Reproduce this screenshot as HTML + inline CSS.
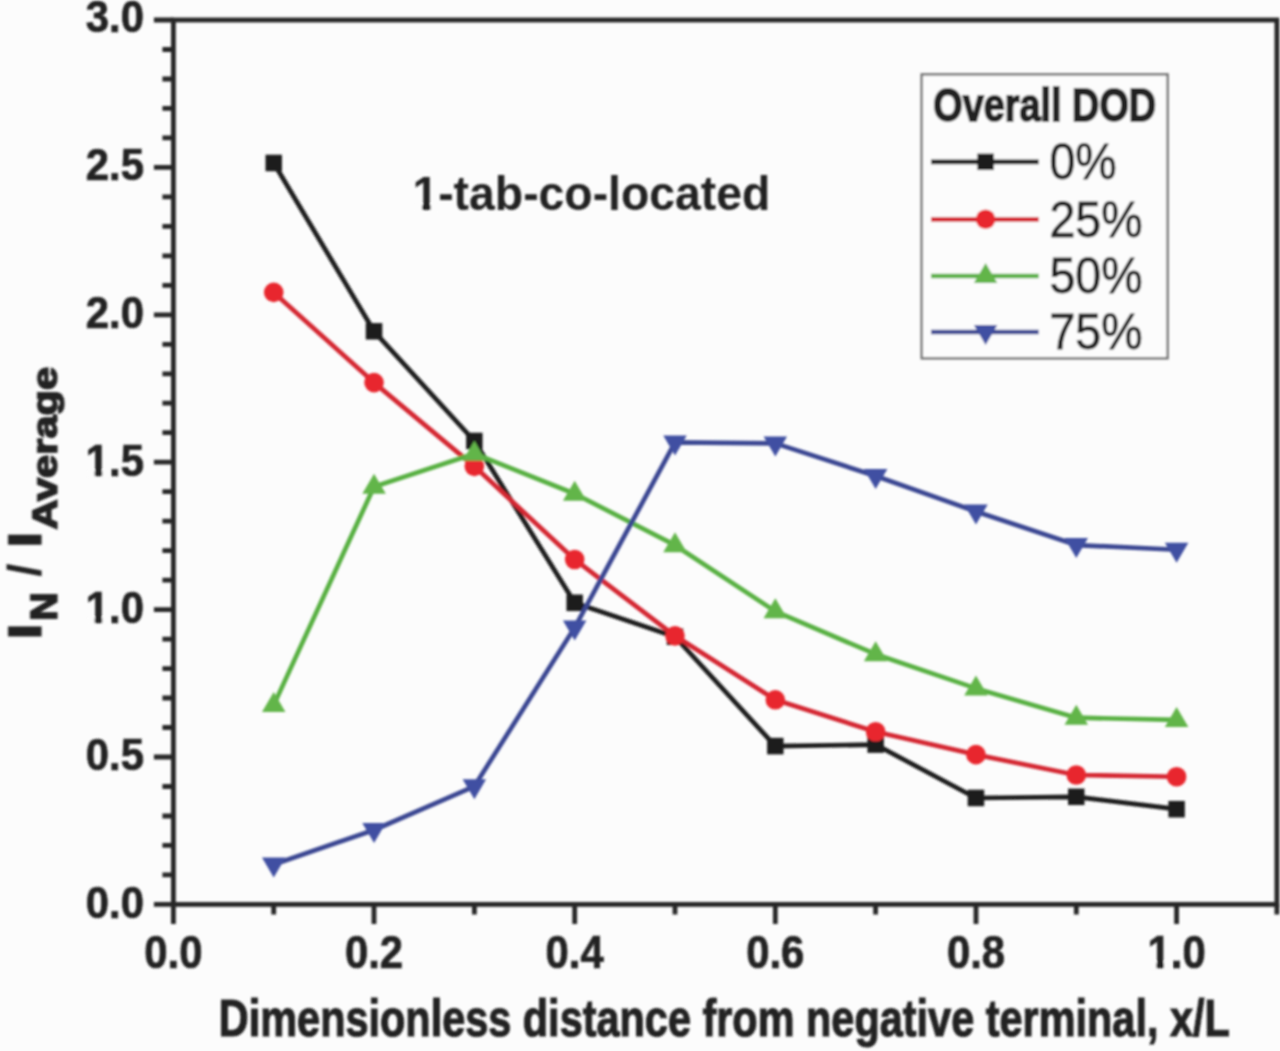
<!DOCTYPE html><html><head><meta charset="utf-8"><style>html,body{margin:0;padding:0;background:#fcfcfc;overflow:hidden}svg{display:block}text{font-family:"Liberation Sans",sans-serif}</style></head><body><svg width="1280" height="1051" viewBox="0 0 1280 1051">
<defs><filter id="bl" x="0" y="0" width="1280" height="1051" filterUnits="userSpaceOnUse"><feGaussianBlur stdDeviation="0.85"/></filter></defs>
<rect width="1280" height="1051" fill="#fcfcfc"/>
<g filter="url(#bl)">
<path d="M153.9 904.4H173.4M162.4 874.9H173.4M162.4 845.4H173.4M162.4 816.0H173.4M162.4 786.5H173.4M153.9 757.0H173.4M162.4 727.5H173.4M162.4 698.0H173.4M162.4 668.6H173.4M162.4 639.1H173.4M153.9 609.6H173.4M162.4 580.1H173.4M162.4 550.6H173.4M162.4 521.2H173.4M162.4 491.7H173.4M153.9 462.2H173.4M162.4 432.7H173.4M162.4 403.2H173.4M162.4 373.8H173.4M162.4 344.3H173.4M153.9 314.8H173.4M162.4 285.3H173.4M162.4 255.8H173.4M162.4 226.4H173.4M162.4 196.9H173.4M153.9 167.4H173.4M162.4 137.9H173.4M162.4 108.4H173.4M162.4 79.0H173.4M162.4 49.5H173.4M153.9 20.0H173.4M173.4 904.4V923.9M273.7 904.4V914.4M374.0 904.4V923.9M474.4 904.4V914.4M574.7 904.4V923.9M675.0 904.4V914.4M775.3 904.4V923.9M875.6 904.4V914.4M976.0 904.4V923.9M1076.3 904.4V914.4M1176.6 904.4V923.9M1276.9 904.4V914.4" stroke="#262626" stroke-width="4.8" fill="none" stroke-linecap="butt"/>
<rect x="173.4" y="20.0" width="1103.5" height="884.4" fill="none" stroke="#262626" stroke-width="4.8"/>
<polyline points="273.72,162.98 374.04,331.31 474.36,440.97 574.68,602.82 675.00,636.72 775.32,746.09 875.64,744.62 975.96,797.98 1076.28,796.80 1176.60,809.18" fill="none" stroke="#1c1c1c" stroke-width="4.7" stroke-linejoin="round"/>
<rect x="265.47" y="154.73" width="16.50" height="16.50" fill="#1f1f1f"/>
<rect x="365.79" y="323.06" width="16.50" height="16.50" fill="#1f1f1f"/>
<rect x="466.11" y="432.72" width="16.50" height="16.50" fill="#1f1f1f"/>
<rect x="566.43" y="594.57" width="16.50" height="16.50" fill="#1f1f1f"/>
<rect x="666.75" y="628.47" width="16.50" height="16.50" fill="#1f1f1f"/>
<rect x="767.07" y="737.84" width="16.50" height="16.50" fill="#1f1f1f"/>
<rect x="867.39" y="736.37" width="16.50" height="16.50" fill="#1f1f1f"/>
<rect x="967.71" y="789.73" width="16.50" height="16.50" fill="#1f1f1f"/>
<rect x="1068.03" y="788.55" width="16.50" height="16.50" fill="#1f1f1f"/>
<rect x="1168.35" y="800.93" width="16.50" height="16.50" fill="#1f1f1f"/>
<polyline points="273.72,292.40 374.04,382.60 474.36,466.33 574.68,559.48 675.00,635.84 775.32,699.81 875.64,731.79 975.96,754.64 1076.28,774.98 1176.60,776.75" fill="none" stroke="#d42632" stroke-width="4.7" stroke-linejoin="round"/>
<circle cx="273.72" cy="292.40" r="9.8" fill="#e8282e"/>
<circle cx="374.04" cy="382.60" r="9.8" fill="#e8282e"/>
<circle cx="474.36" cy="466.33" r="9.8" fill="#e8282e"/>
<circle cx="574.68" cy="559.48" r="9.8" fill="#e8282e"/>
<circle cx="675.00" cy="635.84" r="9.8" fill="#e8282e"/>
<circle cx="775.32" cy="699.81" r="9.8" fill="#e8282e"/>
<circle cx="875.64" cy="731.79" r="9.8" fill="#e8282e"/>
<circle cx="975.96" cy="754.64" r="9.8" fill="#e8282e"/>
<circle cx="1076.28" cy="774.98" r="9.8" fill="#e8282e"/>
<circle cx="1176.60" cy="776.75" r="9.8" fill="#e8282e"/>
<polyline points="273.72,705.12 374.04,486.67 474.36,453.65 574.68,493.74 675.00,545.19 775.32,611.37 875.64,654.20 975.96,688.40 1076.28,717.70 1176.60,719.88" fill="none" stroke="#58b043" stroke-width="4.7" stroke-linejoin="round"/>
<path d="M273.72 692.12L285.47 712.12H261.97Z" fill="#62b54a"/>
<path d="M374.04 473.67L385.79 493.67H362.29Z" fill="#62b54a"/>
<path d="M474.36 440.65L486.11 460.65H462.61Z" fill="#62b54a"/>
<path d="M574.68 480.74L586.43 500.74H562.93Z" fill="#62b54a"/>
<path d="M675.00 532.19L686.75 552.19H663.25Z" fill="#62b54a"/>
<path d="M775.32 598.37L787.07 618.37H763.57Z" fill="#62b54a"/>
<path d="M875.64 641.20L887.39 661.20H863.89Z" fill="#62b54a"/>
<path d="M975.96 675.40L987.71 695.40H964.21Z" fill="#62b54a"/>
<path d="M1076.28 704.70L1088.03 724.70H1064.53Z" fill="#62b54a"/>
<path d="M1176.60 706.88L1188.35 726.88H1164.85Z" fill="#62b54a"/>
<polyline points="273.72,864.51 374.04,829.99 474.36,786.30 574.68,627.58 675.00,442.45 775.32,443.39 875.64,476.00 975.96,511.49 1076.28,545.04 1176.60,549.76" fill="none" stroke="#3a4692" stroke-width="4.7" stroke-linejoin="round"/>
<path d="M273.72 877.51L285.47 857.51H261.97Z" fill="#4050a2"/>
<path d="M374.04 842.99L385.79 822.99H362.29Z" fill="#4050a2"/>
<path d="M474.36 799.30L486.11 779.30H462.61Z" fill="#4050a2"/>
<path d="M574.68 640.58L586.43 620.58H562.93Z" fill="#4050a2"/>
<path d="M675.00 455.45L686.75 435.45H663.25Z" fill="#4050a2"/>
<path d="M775.32 456.39L787.07 436.39H763.57Z" fill="#4050a2"/>
<path d="M875.64 489.00L887.39 469.00H863.89Z" fill="#4050a2"/>
<path d="M975.96 524.49L987.71 504.49H964.21Z" fill="#4050a2"/>
<path d="M1076.28 558.04L1088.03 538.04H1064.53Z" fill="#4050a2"/>
<path d="M1176.60 562.76L1188.35 542.76H1164.85Z" fill="#4050a2"/>
<text id="t_y0" x="144" y="917.9" font-family="Liberation Sans, sans-serif" font-weight="bold" font-size="44.5" text-anchor="end" textLength="58.2" lengthAdjust="spacingAndGlyphs" fill="#222222" stroke="#222222" stroke-width="0.7">0.0</text>
<text id="t_y1" x="144" y="770.4" font-family="Liberation Sans, sans-serif" font-weight="bold" font-size="44.5" text-anchor="end" textLength="58.2" lengthAdjust="spacingAndGlyphs" fill="#222222" stroke="#222222" stroke-width="0.7">0.5</text>
<text id="t_y2" x="144" y="622.9" font-family="Liberation Sans, sans-serif" font-weight="bold" font-size="44.5" text-anchor="end" textLength="58.2" lengthAdjust="spacingAndGlyphs" fill="#222222" stroke="#222222" stroke-width="0.7">1.0</text>
<text id="t_y3" x="144" y="475.8" font-family="Liberation Sans, sans-serif" font-weight="bold" font-size="44.5" text-anchor="end" textLength="58.2" lengthAdjust="spacingAndGlyphs" fill="#222222" stroke="#222222" stroke-width="0.7">1.5</text>
<text id="t_y4" x="144" y="327.9" font-family="Liberation Sans, sans-serif" font-weight="bold" font-size="44.5" text-anchor="end" textLength="58.2" lengthAdjust="spacingAndGlyphs" fill="#222222" stroke="#222222" stroke-width="0.7">2.0</text>
<text id="t_y5" x="144" y="179.8" font-family="Liberation Sans, sans-serif" font-weight="bold" font-size="44.5" text-anchor="end" textLength="58.2" lengthAdjust="spacingAndGlyphs" fill="#222222" stroke="#222222" stroke-width="0.7">2.5</text>
<text id="t_y6" x="144" y="32.2" font-family="Liberation Sans, sans-serif" font-weight="bold" font-size="44.5" text-anchor="end" textLength="58.2" lengthAdjust="spacingAndGlyphs" fill="#222222" stroke="#222222" stroke-width="0.7">3.0</text>
<text id="t_x0" x="173.4" y="967.5" font-family="Liberation Sans, sans-serif" font-weight="bold" font-size="45.5" text-anchor="middle" textLength="58.2" lengthAdjust="spacingAndGlyphs" fill="#222222" stroke="#222222" stroke-width="0.7">0.0</text>
<text id="t_x1" x="374.0" y="967.5" font-family="Liberation Sans, sans-serif" font-weight="bold" font-size="45.5" text-anchor="middle" textLength="58.2" lengthAdjust="spacingAndGlyphs" fill="#222222" stroke="#222222" stroke-width="0.7">0.2</text>
<text id="t_x2" x="574.7" y="967.5" font-family="Liberation Sans, sans-serif" font-weight="bold" font-size="45.5" text-anchor="middle" textLength="58.2" lengthAdjust="spacingAndGlyphs" fill="#222222" stroke="#222222" stroke-width="0.7">0.4</text>
<text id="t_x3" x="775.3" y="967.5" font-family="Liberation Sans, sans-serif" font-weight="bold" font-size="45.5" text-anchor="middle" textLength="58.2" lengthAdjust="spacingAndGlyphs" fill="#222222" stroke="#222222" stroke-width="0.7">0.6</text>
<text id="t_x4" x="976.0" y="967.5" font-family="Liberation Sans, sans-serif" font-weight="bold" font-size="45.5" text-anchor="middle" textLength="58.2" lengthAdjust="spacingAndGlyphs" fill="#222222" stroke="#222222" stroke-width="0.7">0.8</text>
<text id="t_x5" x="1176.6" y="967.5" font-family="Liberation Sans, sans-serif" font-weight="bold" font-size="45.5" text-anchor="middle" textLength="58.2" lengthAdjust="spacingAndGlyphs" fill="#222222" stroke="#222222" stroke-width="0.7">1.0</text>
<text id="t_xt" x="218.8" y="1035.6" font-family="Liberation Sans, sans-serif" font-weight="bold" font-size="51.2" text-anchor="start" textLength="1011" lengthAdjust="spacingAndGlyphs" fill="#222222" stroke="#222222" stroke-width="1.1">Dimensionless distance from negative terminal, x/L</text>
<text id="t_an" x="412.4" y="210.2" font-family="Liberation Sans, sans-serif" font-weight="bold" font-size="47.4" text-anchor="start" textLength="358" lengthAdjust="spacingAndGlyphs" fill="#222222" >1-tab-co-located</text>
<g transform="translate(40.8,640) rotate(-90)"><text id="t_yt_i1" x="0.7" y="0" font-family="Liberation Sans, sans-serif" font-weight="bold" font-size="46" textLength="15.6" lengthAdjust="spacingAndGlyphs" fill="#222222" stroke="#222222" stroke-width="1.6">I</text><text id="t_yt_n" x="19.2" y="16.0" font-family="Liberation Sans, sans-serif" font-weight="bold" font-size="36" textLength="28.5" lengthAdjust="spacingAndGlyphs" fill="#222222" stroke="#222222" stroke-width="1.6">N</text><text id="t_yt_sl" x="63.5" y="0" font-family="Liberation Sans, sans-serif" font-weight="bold" font-size="46" fill="#222222" stroke="#222222" stroke-width="0.3">/</text><text id="t_yt_i2" x="92.6" y="0" font-family="Liberation Sans, sans-serif" font-weight="bold" font-size="46" textLength="15.6" lengthAdjust="spacingAndGlyphs" fill="#222222" stroke="#222222" stroke-width="1.6">I</text><text id="t_yt_av" x="110.5" y="15.6" font-family="Liberation Sans, sans-serif" font-weight="bold" font-size="35.5" textLength="162.5" lengthAdjust="spacingAndGlyphs" fill="#222222" stroke="#222222" stroke-width="1.6">Average</text></g>
<rect x="87.21" y="617.16" width="7.44" height="7.74" fill="#fcfcfc"/>
<rect x="102.23" y="617.16" width="6.91" height="7.74" fill="#fcfcfc"/>
<rect x="87.21" y="470.06" width="7.44" height="7.74" fill="#fcfcfc"/>
<rect x="102.23" y="470.06" width="6.91" height="7.74" fill="#fcfcfc"/>
<rect x="1148.91" y="961.66" width="7.44" height="7.84" fill="#fcfcfc"/>
<rect x="1163.94" y="961.66" width="6.91" height="7.84" fill="#fcfcfc"/>
<rect x="413.96" y="204.16" width="8.24" height="8.04" fill="#fcfcfc"/>
<rect x="430.60" y="204.16" width="7.65" height="8.04" fill="#fcfcfc"/>
<rect x="921.7" y="74.4" width="245.9" height="283.9" fill="#fcfcfc" stroke="#707070" stroke-width="2.4"/>
<text id="t_lt" x="933.2" y="120.8" font-family="Liberation Sans, sans-serif" font-weight="bold" font-size="46.8" text-anchor="start" textLength="223" lengthAdjust="spacingAndGlyphs" fill="#222222" stroke="#222222" stroke-width="1.8">Overall DOD</text>
<path d="M931 161.8H1038.7" stroke="#1c1c1c" stroke-width="4.7"/>
<rect x="977.35" y="153.55" width="16.50" height="16.50" fill="#1f1f1f"/>
<text id="t_lk" x="1049.5" y="179.1" font-family="Liberation Sans, sans-serif" font-size="49.5" text-anchor="start" textLength="67.2" lengthAdjust="spacingAndGlyphs" fill="#222222" stroke="#222222" stroke-width="0.9">0%</text>
<path d="M931 219.3H1038.7" stroke="#d42632" stroke-width="4.7"/>
<circle cx="985.60" cy="219.30" r="9.8" fill="#e8282e"/>
<text id="t_lr" x="1049.5" y="236.6" font-family="Liberation Sans, sans-serif" font-size="49.5" text-anchor="start" textLength="93.0" lengthAdjust="spacingAndGlyphs" fill="#222222" stroke="#222222" stroke-width="0.9">25%</text>
<path d="M931 276H1038.7" stroke="#58b043" stroke-width="4.7"/>
<path d="M985.60 263.00L997.35 283.00H973.85Z" fill="#62b54a"/>
<text id="t_lg" x="1049.5" y="293.3" font-family="Liberation Sans, sans-serif" font-size="49.5" text-anchor="start" textLength="93.0" lengthAdjust="spacingAndGlyphs" fill="#222222" stroke="#222222" stroke-width="0.9">50%</text>
<path d="M931 332H1038.7" stroke="#3a4692" stroke-width="4.7"/>
<path d="M985.60 345.00L997.35 325.00H973.85Z" fill="#4050a2"/>
<text id="t_lb" x="1049.5" y="349.3" font-family="Liberation Sans, sans-serif" font-size="49.5" text-anchor="start" textLength="93.0" lengthAdjust="spacingAndGlyphs" fill="#222222" stroke="#222222" stroke-width="0.9">75%</text>
</g></svg></body></html>
